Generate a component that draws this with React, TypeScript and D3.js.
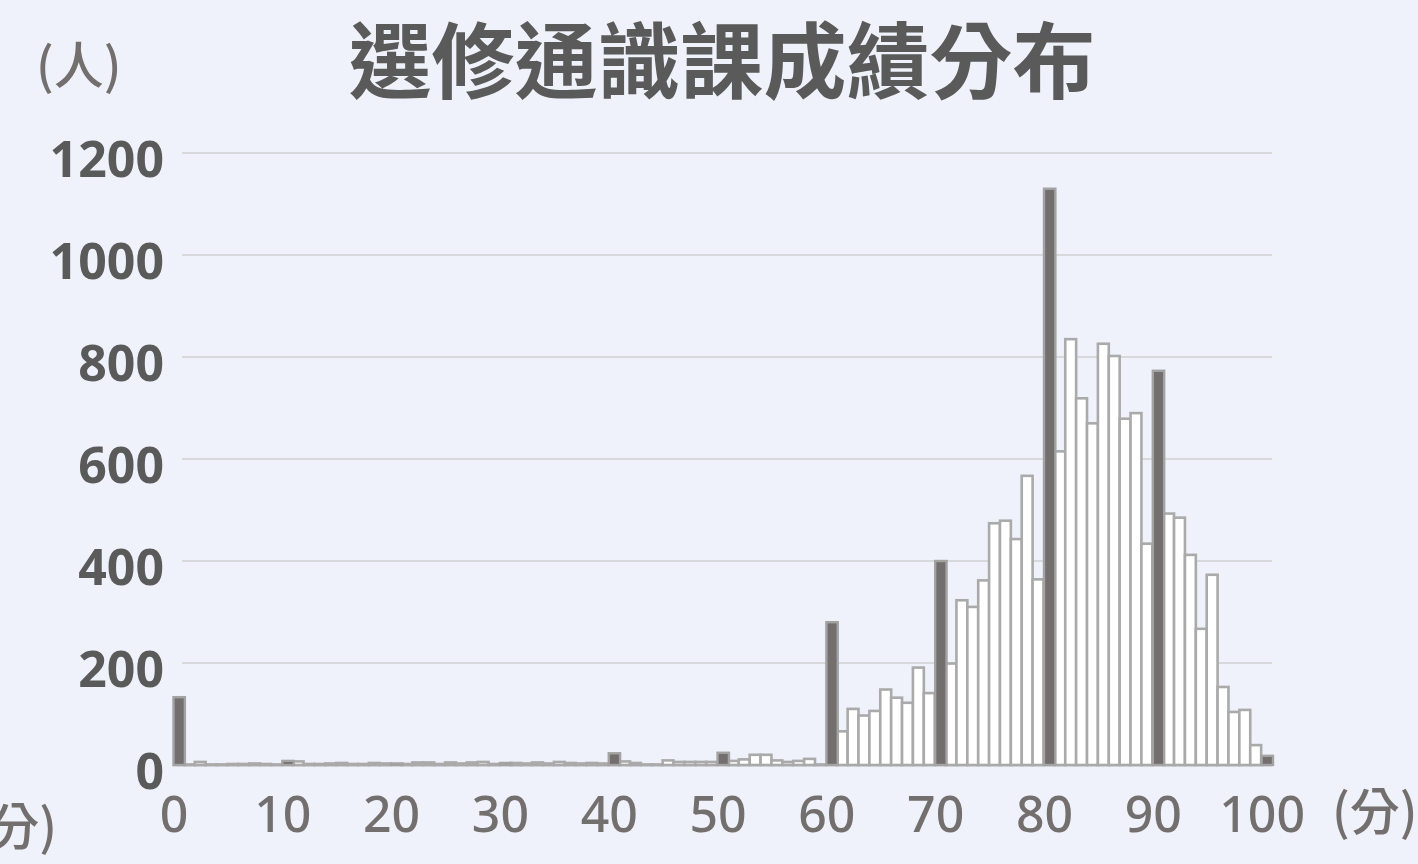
import React from "react";
import * as d3 from "d3";

const scores: number[] = d3.range(0, 101);
const counts: number[] = [
  133, 1, 6, 1, 1, 2, 2, 3, 2, 1,
  8, 7, 2, 2, 3, 4, 2, 2, 4, 3,
  3, 2, 5, 5, 2, 5, 3, 5, 6, 2,
  4, 4, 3, 5, 3, 6, 4, 3, 4, 3,
  23, 7, 4, 1, 1, 9, 6, 6, 6, 6,
  24, 8, 11, 20, 20, 9, 6, 8, 12, 1,
  280, 66, 110, 97, 106, 148, 132, 122, 191, 141,
  400, 199, 323, 310, 362, 474, 479, 443, 567, 364,
  1130, 615, 835, 719, 670, 826, 802, 679, 690, 434,
  773, 493, 485, 412, 267, 373, 153, 104, 108, 39,
  18,
];
const highlighted: number[] = [0, 10, 20, 30, 40, 50, 60, 70, 80, 90, 100];
const yTicks: number[] = [0, 200, 400, 600, 800, 1000, 1200];
const xTicks: number[] = [0, 10, 20, 30, 40, 50, 60, 70, 80, 90, 100];
const title = "選修通識課成績分布";
const yUnit = "(人)";
const xUnit = "(分)";

const W = 1418;
const H = 864;

export default function App() {
  const x = d3.scaleBand<number>().domain(scores).range([173, 1272]).padding(0);
  const y = d3.scaleLinear().domain([0, 1200]).range([765, 153]);
  const bw = x.bandwidth();
  const data = scores.map((s, i) => ({ s, v: counts[i], hi: highlighted.includes(s) }));
  const numFont = "'Noto Sans', 'DejaVu Sans', sans-serif";
  const cjkFont = "'Noto Sans CJK TC', 'Noto Sans CJK SC', sans-serif";
  return (
    <svg
      width={W}
      height={H}
      viewBox={`0 0 ${W} ${H}`}
      style={{ position: "absolute", left: 0, top: 0, display: "block" }}
    >
      <rect x={0} y={0} width={W} height={H} fill="#eff2fa" />
      <text
        x={722}
        y={56}
        textAnchor="middle"
        dominantBaseline="central"
        fontFamily={cjkFont}
        fontWeight={700}
        fontSize={83}
        fill="#5a5a5a"
      >
        {title}
      </text>
      <text x={36} y={84} fontFamily={cjkFont} fontWeight={500} fontSize={50} fill="#736f6e">
        {yUnit}
      </text>
      {yTicks.map((t) => (
        <g key={`g${t}`}>
          {t > 0 && (
            <line x1={182} x2={1272} y1={y(t)} y2={y(t)} stroke="#d8d9dc" strokeWidth={2} />
          )}
          <text
            x={164}
            y={y(t) + 24}
            textAnchor="end"
            fontFamily={numFont}
            fontWeight={700}
            fontSize={50}
            fill="#5a5a5a"
          >
            {t}
          </text>
        </g>
      ))}
      <line x1={173} x2={1272} y1={y(0)} y2={y(0)} stroke="#ababab" strokeWidth={2.5} />
      {data
        .filter((d) => !d.hi)
        .map((d) => (
          <rect
            key={`w${d.s}`}
            x={x(d.s)!}
            y={y(d.v)}
            width={bw}
            height={y(0) - y(d.v)}
            fill="#ffffff"
            stroke="#aaaaaa"
            strokeWidth={2.6}
          />
        ))}
      {data
        .filter((d) => d.hi)
        .map((d) => (
          <rect
            key={`d${d.s}`}
            x={x(d.s)! + 0.5}
            y={y(d.v)}
            width={bw + 0.5}
            height={y(0) - y(d.v)}
            fill="#736f6e"
            stroke="#a3a3a3"
            strokeWidth={2.4}
          />
        ))}
      {xTicks.map((t) => (
        <text
          key={`x${t}`}
          x={x(t)! + 1}
          y={832}
          textAnchor="middle"
          fontFamily={numFont}
          fontWeight={500}
          fontSize={50}
          fill="#736f6e"
        >
          {t}
        </text>
      ))}
      <text x={1332} y={830} fontFamily={cjkFont} fontWeight={500} fontSize={50} fill="#736f6e">
        {xUnit}
      </text>
      <text x={57} y={845} textAnchor="end" fontFamily={cjkFont} fontWeight={500} fontSize={50} fill="#736f6e">
        {xUnit}
      </text>
    </svg>
  );
}
